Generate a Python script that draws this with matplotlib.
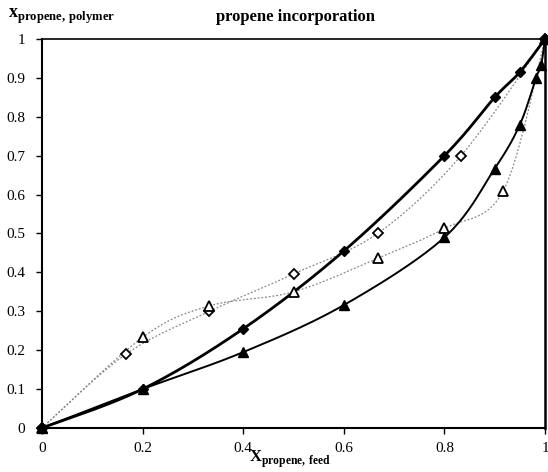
import numpy as np
import matplotlib
matplotlib.use('Agg')
import matplotlib.pyplot as plt

plt.rcParams['font.family'] = 'Liberation Serif'
plt.rcParams['mathtext.fontset'] = 'custom'
plt.rcParams['mathtext.rm'] = 'Liberation Serif'
plt.rcParams['mathtext.bf'] = 'Liberation Serif:bold'

# filled diamonds
fd_x = [0, 0.2, 0.4, 0.6, 0.8, 0.9, 0.95, 1.0]
fd_y = [0, 0.10, 0.255, 0.455, 0.70, 0.85, 0.915, 1.0]
# filled triangles
ft_x = [0, 0.2, 0.4, 0.6, 0.8, 0.9, 0.95, 0.982, 0.992, 1.0]
ft_y = [0, 0.10, 0.195, 0.316, 0.49, 0.667, 0.78, 0.90, 0.932, 1.0]
# open diamonds
od_x = [0, 0.167, 0.333, 0.5, 0.667, 0.833, 1.0]
od_y = [0, 0.19, 0.30, 0.396, 0.50, 0.70, 1.0]
# open triangles
ot_x = [0, 0.2, 0.333, 0.5, 0.667, 0.8, 0.917, 1.0]
ot_y = [0, 0.233, 0.314, 0.35, 0.436, 0.513, 0.61, 1.0]

x_ticks = [0, 0.2, 0.4, 0.6, 0.8, 1.0]
x_labels = ['0', '0.2', '0.4', '0.6', '0.8', '1']
y_ticks = [0, 0.1, 0.2, 0.3, 0.4, 0.5, 0.6, 0.7, 0.8, 0.9, 1.0]
y_labels = ['0', '0.1', '0.2', '0.3', '0.4', '0.5', '0.6', '0.7', '0.8', '0.9', '1']


def smooth(x, y, n=24):
    # catmull-rom curve through the points (like excel smoothed lines)
    p = np.column_stack([x, y]).astype(float)
    p = np.vstack([p[0], p, p[-1]])
    out = []
    t = np.linspace(0, 1, n)[:, None]
    for i in range(1, len(p) - 2):
        p0, p1, p2, p3 = p[i-1], p[i], p[i+1], p[i+2]
        seg = 0.5 * ((2*p1) + (-p0 + p2)*t + (2*p0 - 5*p1 + 4*p2 - p3)*t**2
                     + (-p0 + 3*p1 - 3*p2 + p3)*t**3)
        out.append(seg)
    s = np.vstack(out)
    return s[:, 0], s[:, 1]


fig = plt.figure(figsize=(5.48, 4.72), dpi=100)
ax = fig.add_axes([0.0766, 0.0932, 0.918, 0.8242])

sx, sy = smooth(od_x, od_y)
ax.plot(sx, sy, color='#888888', lw=0.9, ls=(0, (1.5, 1.5)), clip_on=False)
sx, sy = smooth(ot_x, ot_y)
ax.plot(sx, sy, color='#888888', lw=0.9, ls=(0, (1.5, 1.5)), clip_on=False)
sx, sy = smooth(ft_x, ft_y)
ax.plot(sx, sy, color='black', lw=1.4, clip_on=False)
sx, sy = smooth(fd_x, fd_y)
ax.plot(sx, sy, color='black', lw=2.0, clip_on=False)

ax.plot(od_x, od_y, ls='none', marker='D', ms=5, mfc='white', mec='black', mew=1.3, clip_on=False)
ax.plot(ot_x, ot_y, ls='none', marker='^', ms=7.5, mfc='white', mec='black', mew=1.3, clip_on=False)
ax.plot(ft_x, ft_y, ls='none', marker='^', ms=7.5, color='black', clip_on=False)
ax.plot(fd_x, fd_y, ls='none', marker='D', ms=5.5, color='black', clip_on=False)

ax.set_xlim(0, 1)
ax.set_ylim(0, 1)
ax.set_xticks(x_ticks)
ax.set_xticklabels(x_labels)
ax.set_yticks(y_ticks)
ax.set_yticklabels(y_labels)
ax.tick_params(direction='out', length=4, width=1, labelsize=11)
ax.tick_params(axis='x', pad=6)
ax.tick_params(axis='y', pad=8)
for s in ax.spines.values():
    s.set_linewidth(1.2)
ax.spines['left'].set_linewidth(1.5)
ax.spines['bottom'].set_linewidth(1.5)
ax.spines['right'].set_linewidth(1.8)

fig.text(0.54, 0.965, 'propene incorporation', ha='center', va='center',
         fontsize=12, fontweight='bold')
fig.text(0.015, 0.965, r'$\mathbf{x}_{\mathbf{propene{,}\ polymer}}$', ha='left', va='center',
         fontsize=13)
fig.text(0.53, 0.004, r'$\mathbf{X}_{\mathbf{propene{,}\ feed}}$', ha='center', va='bottom',
         fontsize=12)

fig.savefig('out.png', dpi=100)
